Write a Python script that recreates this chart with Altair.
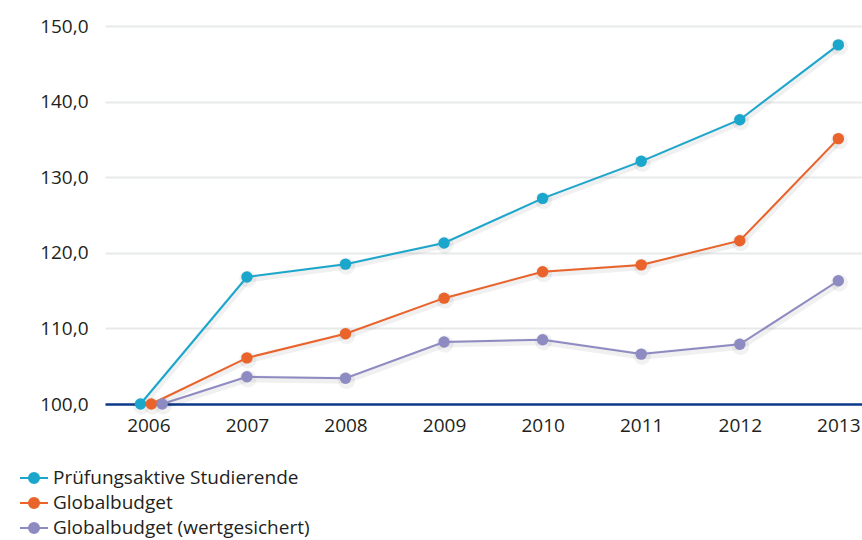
import altair as alt
import pandas as pd

# Index values (2006 = 100)
years = [2006, 2007, 2008, 2009, 2010, 2011, 2012, 2013]
series_names = [
    "Prüfungsaktive Studierende",
    "Globalbudget",
    "Globalbudget (wertgesichert)",
]
studierende = [100.0, 116.8, 118.5, 121.3, 127.2, 132.1, 137.6, 147.5]
globalbudget = [100.0, 106.1, 109.3, 114.0, 117.5, 118.4, 121.6, 135.1]
wertgesichert = [100.0, 103.6, 103.4, 108.2, 108.5, 106.6, 107.9, 116.3]
y_ticks = [100, 110, 120, 130, 140, 150]

colors = ["#1ba6cc", "#e9632b", "#8e8ac2"]
text_color = "#231f20"
font = "Open Sans"
font_size = 19

rows = []
for k, (name, vals) in enumerate(zip(series_names, [studierende, globalbudget, wertgesichert])):
    for y, v in zip(years, vals):
        rows.append({"year": y, "value": v, "series": name, "k": k})
df = pd.DataFrame(rows)

# legend symbol: short line with a dot in the middle
legend_symbol = (
    "M-1,0L1,0"
    "M-0.36,0A0.36,0.36,0,1,0,0.36,0A0.36,0.36,0,1,0,-0.36,0Z"
)

x_scale = alt.Scale(domain=[2005.56, 2013.24], nice=False, zero=False)
y_scale = alt.Scale(domain=[100, 150], nice=False, zero=False)
color_scale = alt.Scale(domain=series_names, range=colors)

base = alt.Chart(df).transform_calculate(
    # spread the common starting points of 2006 slightly apart
    xpos="datum.year + (datum.year == 2006 ? datum.k * 0.11 - 0.08 : 0)"
)

x_enc = alt.X(
    "xpos:Q",
    scale=x_scale,
    axis=alt.Axis(
        values=years,
        format="d",
        title=None,
        grid=False,
        ticks=False,
        domainColor="#0d3b8c",
        domainWidth=2.5,
        labelFont=font,
        labelFontSize=font_size,
        labelColor=text_color,
        labelPadding=12,
    ),
)
y_enc = alt.Y(
    "value:Q",
    scale=y_scale,
    axis=alt.Axis(
        values=y_ticks,
        labelExpr="replace(format(datum.value, '.1f'), '.', ',')",
        title=None,
        grid=True,
        gridColor="#e8e9ea",
        gridWidth=2,
        domain=False,
        ticks=False,
        labelFont=font,
        labelFontSize=font_size,
        labelColor=text_color,
        labelPadding=17,
    ),
)
color_enc = alt.Color(
    "series:N",
    scale=color_scale,
    sort=series_names,
    legend=alt.Legend(
        title=None,
        orient="none",
        legendX=-86,
        legendY=437,
        direction="vertical",
        symbolType=legend_symbol,
        symbolSize=784,
        symbolStrokeWidth=2,
        labelFont=font,
        labelFontSize=font_size,
        labelColor=text_color,
        labelOffset=4,
        labelLimit=0,
        rowPadding=-1.5,
        symbolOpacity=1,
    ),
)

# soft shadow under the lines and points
shadow = base.mark_line(strokeWidth=7, opacity=0.06, color="#000000", xOffset=1, yOffset=2).encode(
    x=alt.X("xpos:Q", scale=x_scale),
    y=alt.Y("value:Q", scale=y_scale),
    detail="series:N",
)
point_shadow = base.mark_circle(size=300, opacity=0.05, color="#000000", xOffset=1, yOffset=2).encode(
    x=alt.X("xpos:Q", scale=x_scale),
    y=alt.Y("value:Q", scale=y_scale),
)

lines = base.mark_line(strokeWidth=2).encode(x=x_enc, y=y_enc, color=color_enc)
points = base.mark_circle(size=130, opacity=1).encode(x=x_enc, y=y_enc, color=color_enc)

chart = (
    alt.layer(shadow, point_shadow, lines, points)
    .properties(
        width=757,
        height=378,
        autosize=alt.AutoSizeParams(type="none"),
        padding={"left": 105, "top": 26, "right": 0, "bottom": 136},
        background="white",
    )
    .configure_view(stroke=None)
)

chart.save("out.html", embed_options={"renderer": "svg", "actions": False})
